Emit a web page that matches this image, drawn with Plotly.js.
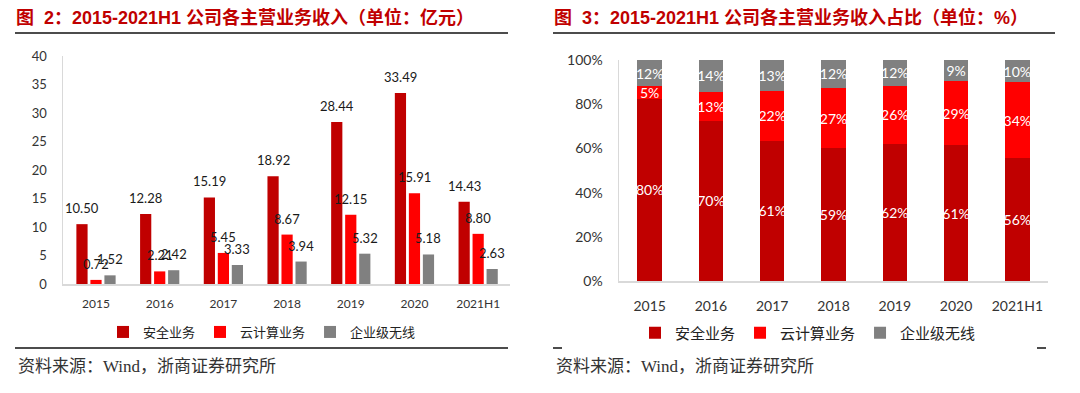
<!DOCTYPE html>
<html>
<head>
<meta charset="utf-8">
<script src="https://cdn.plot.ly/plotly-3.0.1.min.js"></script>
<style>
html,body{margin:0;padding:0;background:#fff;overflow:hidden;}
#wrap{position:relative;width:1080px;height:393px;}
#left{position:absolute;left:0;top:0;width:540px;height:393px;}
#right{position:absolute;left:540px;top:0;width:540px;height:393px;}
</style>
</head>
<body>
<div id="wrap"><div id="left"></div><div id="right"></div></div>
<script>
const categories = ['2015','2016','2017','2018','2019','2020','2021H1'];
const seriesNames = ['安全业务','云计算业务','企业级无线'];
const securityRevenue = [10.50,12.28,15.19,18.92,28.44,33.49,14.43];
const cloudRevenue = [0.72,2.21,5.45,8.67,12.15,15.91,8.80];
const wirelessRevenue = [1.52,2.42,3.33,3.94,5.32,5.18,2.63];
const securityShareLabels = ['80%','70%','61%','59%','62%','61%','56%'];
const cloudShareLabels = ['5%','13%','22%','27%','26%','29%','34%'];
const wirelessShareLabels = ['12%','14%','13%','12%','12%','9%','10%'];
const leftTitle = '图&nbsp;&nbsp;2：2015-2021H1 公司各主营业务收入（单位：亿元）';
const rightTitle = '图&nbsp;&nbsp;3：2015-2021H1 公司各主营业务收入占比（单位：%）';
const sourceText = '资料来源：Wind，浙商证券研究所';

const colors = ['#C00000','#FF0000','#808080'];
const W = 540, H = 393;
const px = v => v / W;
const py = v => 1 - v / H;
const baseFont = 'Lato, "Noto Sans CJK SC", sans-serif';
const titleFont = {family:'"Liberation Sans", "Noto Sans CJK SC", sans-serif', size:18, color:'#C00000', weight:'bold'};
const srcFont = {family:'"Liberation Serif", "Noto Sans CJK SC", serif', size:17, color:'#333333'};
const revenues = [securityRevenue, cloudRevenue, wirelessRevenue];

// LEFT CHART
const leftTraces = revenues.map((vals,i) => ({
  type:'bar', x:categories, y:vals, name:seriesNames[i],
  marker:{color:colors[i]}, hoverinfo:'skip'
}));
const slotShift = [-14, 0, 14];
const labelAnnotations = [];
revenues.forEach((vals,i) => {
  vals.forEach((v,j) => {
    labelAnnotations.push({xref:'x', yref:'y', x:j, y:v, text:v.toFixed(2),
      showarrow:false, xanchor:'center', yanchor:'middle', xshift:slotShift[i], yshift:16,
      font:{size:13, color:'#1a1a1a', family:baseFont}});
  });
});
const leftLayout = {
  width:W, height:H, margin:{l:0,r:0,t:0,b:0},
  paper_bgcolor:'#fff', plot_bgcolor:'#fff',
  font:{family:baseFont, color:'#333'},
  barmode:'group', bargap:0.34, bargroupgap:0.2,
  showlegend:true,
  legend:{orientation:'h', traceorder:'normal', x:px(262), xanchor:'center', y:py(332), yanchor:'middle',
    font:{size:13, color:'#222', family:baseFont}, itemclick:false, itemdoubleclick:false},
  xaxis:{domain:[px(63),px(510)], type:'category', showline:true, linecolor:'#d9d9d9', linewidth:1.5,
    showgrid:false, zeroline:false, ticks:'outside', ticklen:8, tickcolor:'rgba(0,0,0,0)',
    tickfont:{size:12, color:'#333'}},
  yaxis:{domain:[py(284),py(56)], range:[0,40], dtick:5, showline:true, linecolor:'#d9d9d9', linewidth:1.5,
    showgrid:false, zeroline:false, ticks:'outside', ticklen:12, tickcolor:'rgba(0,0,0,0)',
    tickfont:{size:13, color:'#333'}},
  annotations:[
    {xref:'paper', yref:'paper', x:px(14), y:py(17), xanchor:'left', yanchor:'middle', text:leftTitle, showarrow:false, font:titleFont},
    {xref:'paper', yref:'paper', x:px(16), y:py(366), xanchor:'left', yanchor:'middle', text:sourceText, showarrow:false, font:srcFont}
  ].concat(labelAnnotations),
  shapes:[
    {type:'line', xref:'paper', yref:'paper', x0:px(15), x1:px(508), y0:py(33), y1:py(33), line:{color:'#111', width:1.5}},
    {type:'line', xref:'paper', yref:'paper', x0:px(15), x1:px(508), y0:py(348), y1:py(348), line:{color:'#111', width:1.5}}
  ]
};

// RIGHT CHART
const shareLabels = [securityShareLabels, cloudShareLabels, wirelessShareLabels];
const rightTraces = revenues.map((vals,i) => ({
  type:'bar', x:categories, y:vals, name:seriesNames[i],
  marker:{color:colors[i], line:{width:0}},
  text:shareLabels[i], textposition:'inside', insidetextanchor:'middle', textangle:0,
  textfont:{size:14, color:'#ffffff', family:baseFont},
  constraintext:'none', hoverinfo:'skip'
}));
const R0 = 540;
const rightLayout = {
  width:W, height:H, margin:{l:0,r:0,t:0,b:0},
  paper_bgcolor:'#fff', plot_bgcolor:'#fff',
  font:{family:baseFont, color:'#333'},
  barmode:'stack', barnorm:'percent', bargap:0.6,
  showlegend:true,
  legend:{orientation:'h', traceorder:'normal', x:px(808-R0), xanchor:'center', y:py(333), yanchor:'middle',
    font:{size:15, color:'#222', family:baseFont}, itemclick:false, itemdoubleclick:false},
  xaxis:{domain:[px(619-R0),px(1048-R0)], type:'category', showline:true, linecolor:'#d9d9d9', linewidth:1.5,
    showgrid:false, zeroline:false, ticks:'outside', ticklen:12, tickcolor:'rgba(0,0,0,0)',
    tickfont:{size:14, color:'#333'}},
  yaxis:{domain:[py(281),py(60)], range:[0,100], dtick:20, ticksuffix:'%', showline:true, linecolor:'#d9d9d9', linewidth:1.5,
    showgrid:false, zeroline:false, ticks:'outside', ticklen:12, tickcolor:'rgba(0,0,0,0)',
    tickfont:{size:14, color:'#333'}},
  annotations:[
    {xref:'paper', yref:'paper', x:px(552-R0), y:py(17), xanchor:'left', yanchor:'middle', text:rightTitle, showarrow:false, font:titleFont},
    {xref:'paper', yref:'paper', x:px(554-R0), y:py(366), xanchor:'left', yanchor:'middle', text:sourceText, showarrow:false, font:srcFont}
  ],
  shapes:[
    {type:'line', xref:'paper', yref:'paper', x0:px(553-R0), x1:px(1055-R0), y0:py(33), y1:py(33), line:{color:'#111', width:1.5}},
    {type:'line', xref:'paper', yref:'paper', x0:px(553-R0), x1:px(562-R0), y0:py(348), y1:py(348), line:{color:'#111', width:1.5}},
    {type:'line', xref:'paper', yref:'paper', x0:px(1037-R0), x1:px(1046-R0), y0:py(348), y1:py(348), line:{color:'#111', width:1.5}}
  ]
};

const cfg = {staticPlot:true, displayModeBar:false};
Plotly.newPlot('left', leftTraces, leftLayout, cfg);
Plotly.newPlot('right', rightTraces, rightLayout, cfg);
</script>
</body>
</html>
